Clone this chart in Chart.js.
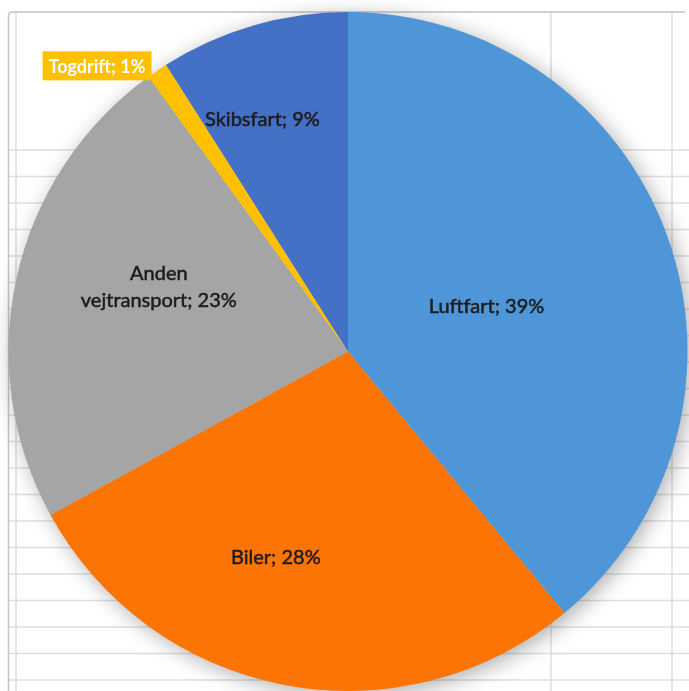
<!DOCTYPE html>
<html>
<head>
<meta charset="utf-8">
<script src="https://cdn.jsdelivr.net/npm/chart.js@4/dist/chart.umd.min.js"></script>
<style>
  html, body { margin: 0; padding: 0; background: #ffffff; }
  #wrap { width: 689px; height: 691px; }
</style>
</head>
<body>
<div id="wrap"><canvas id="c" width="689" height="691"></canvas></div>
<script>
// Transport emissions by source, percent of total
const categories = ['Luftfart', 'Biler', 'Anden vejtransport', 'Togdrift', 'Skibsfart'];
const shares = [39, 28, 23, 1, 9];
const sliceColors = ['#4E96D8', '#FC7404', '#A5A5A5', '#FFC000', '#4470C6'];

// Label text "<name>; <pct>%", long names broken after the first word
function labelLines(i) {
  const name = categories[i];
  const text = name + '; ' + shares[i] + '%';
  if (name.indexOf(' ') > 0) {
    const first = name.split(' ')[0];
    return [first, text.slice(first.length + 1)];
  }
  return [text];
}

// Label placement relative to each slice: radial fraction + angle shift (deg)
const labelPlacement = [
  { frac: 0.43, shift: 1.5 },
  { frac: 0.64, shift: 8.6 },
  { frac: 0.59, shift: 6.6 },
  { frac: 1.12, shift: -7.1, boxed: true },
  { frac: 0.73, shift: -4.0 }
];

// Worksheet-style backdrop: gridlines and the chart frame
const sheetBackdrop = {
  id: 'sheetBackdrop',
  beforeDraw(chart) {
    const ctx = chart.ctx;
    const W = chart.width, H = chart.height;
    ctx.save();
    ctx.fillStyle = '#ffffff';
    ctx.fillRect(0, 0, W, H);
    ctx.strokeStyle = '#dedede';
    ctx.lineWidth = 1.5;
    for (let y = 150; y < H; y += 26.5) {
      ctx.beginPath(); ctx.moveTo(8, y); ctx.lineTo(W, y); ctx.stroke();
    }
    [16, 551, 672].forEach(x => {
      ctx.beginPath(); ctx.moveTo(x, 12); ctx.lineTo(x, H); ctx.stroke();
    });
    ctx.strokeStyle = '#c4c4c4';
    ctx.lineWidth = 1.5;
    ctx.beginPath();
    ctx.moveTo(8.5, H);
    ctx.lineTo(8.5, 16);
    ctx.quadraticCurveTo(8.5, 12, 12.5, 12);
    ctx.lineTo(W - 4, 12);
    ctx.stroke();
    ctx.restore();
  },
  beforeDatasetsDraw(chart) {
    // soft drop shadow under the whole pie
    const arc = chart.getDatasetMeta(0).data[0];
    if (!arc) return;
    const ctx = chart.ctx;
    ctx.save();
    ctx.shadowColor = 'rgba(0,0,0,0.35)';
    ctx.shadowBlur = 22;
    ctx.shadowOffsetX = 4;
    ctx.shadowOffsetY = 4;
    ctx.fillStyle = '#bbbbbb';
    ctx.beginPath();
    ctx.arc(arc.x, arc.y, arc.outerRadius - 1, 0, Math.PI * 2);
    ctx.fill();
    ctx.restore();
  }
};

// Slice labels drawn at each arc's own geometry
const sliceLabels = {
  id: 'sliceLabels',
  afterDatasetsDraw(chart) {
    const ctx = chart.ctx;
    const meta = chart.getDatasetMeta(0);
    meta.data.forEach((arc, i) => {
      const p = labelPlacement[i];
      const mid = (arc.startAngle + arc.endAngle) / 2 + p.shift * Math.PI / 180;
      const r = arc.outerRadius * p.frac;
      const cx = arc.x + Math.cos(mid) * r;
      const cy = arc.y + Math.sin(mid) * r;
      const lines = labelLines(i);
      ctx.save();
      ctx.textAlign = 'center';
      ctx.textBaseline = 'middle';
      if (p.boxed) {
        ctx.font = 'bold 18px Lato';
        const w = ctx.measureText(lines[0]).width + 12;
        const h = 29;
        ctx.fillStyle = sliceColors[i];
        ctx.fillRect(cx - w / 2, cy - h / 2, w, h);
        ctx.fillStyle = '#ffffff';
        ctx.fillText(lines[0], cx, cy + 1);
      } else {
        ctx.font = '20px Lato';
        ctx.fillStyle = '#1c1c1c';
        ctx.strokeStyle = '#1c1c1c';
        ctx.lineWidth = 0.5;
        const lh = 27;
        lines.forEach((t, k) => {
          const ty = cy + 1 + (k - (lines.length - 1) / 2) * lh;
          ctx.fillText(t, cx, ty);
          ctx.strokeText(t, cx, ty);
        });
      }
      ctx.restore();
    });
  }
};

new Chart(document.getElementById('c'), {
  type: 'pie',
  data: {
    labels: categories,
    datasets: [{
      data: shares,
      backgroundColor: sliceColors,
      borderWidth: 0
    }]
  },
  options: {
    responsive: false,
    devicePixelRatio: 1,
    animation: false,
    layout: { padding: { left: 8, right: 1, top: 12, bottom: 0 } },
    plugins: {
      legend: { display: false },
      tooltip: { enabled: false }
    }
  },
  plugins: [sheetBackdrop, sliceLabels]
});
</script>
</body>
</html>
